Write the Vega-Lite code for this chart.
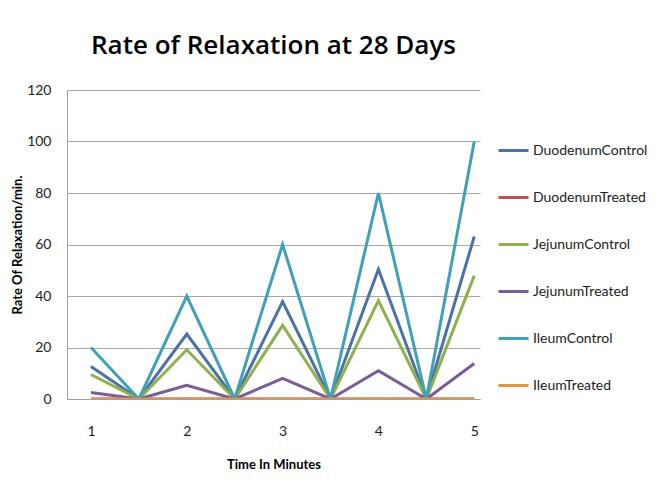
{
  "$schema": "https://vega.github.io/schema/vega-lite/v6.json",
  "width": 413,
  "height": 309,
  "autosize": {"type": "none"},
  "padding": {"left": 67, "top": 90, "right": 191, "bottom": 86},
  "background": "white",
  "title": {"text": "Rate of Relaxation at 28 Days", "font": "Open Sans", "fontSize": 26, "fontWeight": 600, "color": "#000000", "anchor": "middle", "offset": 24},
  "config": {"view": {"stroke": null}, "font": "Lato"},
  "data": {"values": [
    {"t": 1, "s": "DuodenumControl", "v": 12.6}, {"t": 1.5, "s": "DuodenumControl", "v": 0}, {"t": 2, "s": "DuodenumControl", "v": 25.2}, {"t": 2.5, "s": "DuodenumControl", "v": 0}, {"t": 3, "s": "DuodenumControl", "v": 37.8}, {"t": 3.5, "s": "DuodenumControl", "v": 0}, {"t": 4, "s": "DuodenumControl", "v": 50.4}, {"t": 4.5, "s": "DuodenumControl", "v": 0}, {"t": 5, "s": "DuodenumControl", "v": 63.1},
    {"t": 1, "s": "DuodenumTreated", "v": 0}, {"t": 1.5, "s": "DuodenumTreated", "v": 0}, {"t": 2, "s": "DuodenumTreated", "v": 0}, {"t": 2.5, "s": "DuodenumTreated", "v": 0}, {"t": 3, "s": "DuodenumTreated", "v": 0}, {"t": 3.5, "s": "DuodenumTreated", "v": 0}, {"t": 4, "s": "DuodenumTreated", "v": 0}, {"t": 4.5, "s": "DuodenumTreated", "v": 0}, {"t": 5, "s": "DuodenumTreated", "v": 0},
    {"t": 1, "s": "JejunumControl", "v": 9.5}, {"t": 1.5, "s": "JejunumControl", "v": 0}, {"t": 2, "s": "JejunumControl", "v": 19.1}, {"t": 2.5, "s": "JejunumControl", "v": 0}, {"t": 3, "s": "JejunumControl", "v": 28.6}, {"t": 3.5, "s": "JejunumControl", "v": 0}, {"t": 4, "s": "JejunumControl", "v": 38.2}, {"t": 4.5, "s": "JejunumControl", "v": 0}, {"t": 5, "s": "JejunumControl", "v": 47.9},
    {"t": 1, "s": "JejunumTreated", "v": 2.5}, {"t": 1.5, "s": "JejunumTreated", "v": 0}, {"t": 2, "s": "JejunumTreated", "v": 5.3}, {"t": 2.5, "s": "JejunumTreated", "v": 0}, {"t": 3, "s": "JejunumTreated", "v": 8.0}, {"t": 3.5, "s": "JejunumTreated", "v": 0}, {"t": 4, "s": "JejunumTreated", "v": 11.0}, {"t": 4.5, "s": "JejunumTreated", "v": 0}, {"t": 5, "s": "JejunumTreated", "v": 13.8},
    {"t": 1, "s": "IleumControl", "v": 20}, {"t": 1.5, "s": "IleumControl", "v": 0}, {"t": 2, "s": "IleumControl", "v": 40}, {"t": 2.5, "s": "IleumControl", "v": 0}, {"t": 3, "s": "IleumControl", "v": 60}, {"t": 3.5, "s": "IleumControl", "v": 0}, {"t": 4, "s": "IleumControl", "v": 80}, {"t": 4.5, "s": "IleumControl", "v": 0}, {"t": 5, "s": "IleumControl", "v": 100},
    {"t": 1, "s": "IleumTreated", "v": 0}, {"t": 1.5, "s": "IleumTreated", "v": 0}, {"t": 2, "s": "IleumTreated", "v": 0}, {"t": 2.5, "s": "IleumTreated", "v": 0}, {"t": 3, "s": "IleumTreated", "v": 0}, {"t": 3.5, "s": "IleumTreated", "v": 0}, {"t": 4, "s": "IleumTreated", "v": 0}, {"t": 4.5, "s": "IleumTreated", "v": 0}, {"t": 5, "s": "IleumTreated", "v": 0}
  ]},
  "mark": {"type": "line", "strokeWidth": 3, "clip": true},
  "encoding": {
    "x": {"field": "t", "type": "quantitative", "scale": {"domain": [0.75, 5.06], "nice": false, "zero": false},
      "axis": {"values": [1, 2, 3, 4, 5], "grid": false, "ticks": false, "domainColor": "#a0a0a0", "domainWidth": 1, "labelPadding": 25, "labelFontSize": 14, "labelColor": "#222222", "labelFont": "Lato", "title": "Time In Minutes", "titleFontSize": 13, "titleFont": "Lato", "titleFontWeight": "bold", "titleColor": "#000000", "titlePadding": 20}},
    "y": {"field": "v", "type": "quantitative", "scale": {"domain": [0, 120], "nice": false},
      "axis": {"values": [0, 20, 40, 60, 80, 100, 120], "grid": true, "gridColor": "#a8a8a8", "gridWidth": 1, "ticks": false, "domainColor": "#a0a0a0", "labelPadding": 16, "labelFontSize": 14, "labelColor": "#222222", "labelFont": "Lato", "title": "Rate Of Relaxation/min.", "titleFontSize": 13, "titleFont": "Lato", "titleFontWeight": "bold", "titleColor": "#000000", "titlePadding": 2}},
    "color": {"field": "s", "type": "nominal",
      "sort": ["DuodenumControl", "DuodenumTreated", "JejunumControl", "JejunumTreated", "IleumControl", "IleumTreated"],
      "scale": {"domain": ["DuodenumControl", "DuodenumTreated", "JejunumControl", "JejunumTreated", "IleumControl", "IleumTreated"], "range": ["#4A72A8", "#C0504D", "#8FB04E", "#7A5C97", "#3FA0B8", "#E89246"]},
      "legend": {"title": null, "orient": "none", "legendX": 430, "legendY": 44, "symbolType": "stroke", "symbolSize": 900, "symbolStrokeWidth": 3, "labelFontSize": 14, "labelFont": "Lato", "labelColor": "#222222", "rowPadding": 23, "labelOffset": 3}}
  }
}
